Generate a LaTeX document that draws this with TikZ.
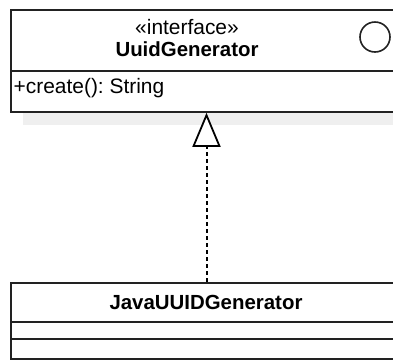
\documentclass[tikz,border=0pt]{standalone}
\usepackage{fontspec}
\setmainfont{Liberation Sans}
\usetikzlibrary{arrows.meta}
\frenchspacing
\definecolor{edgegray}{HTML}{222222}
\definecolor{shadowgray}{HTML}{EFEFEF}
\tikzset{
  umlbox/.style={draw=edgegray, line width=2bp, fill=white},
  umlsep/.style={draw=edgegray, line width=2bp},
  lbl/.style={inner sep=0pt, font=\fontsize{21}{25}\selectfont, text=black},
  boldlbl/.style={lbl, font=\fontsize{20.5}{25}\selectfont\bfseries},
  realize/.style={draw=black, line width=2bp, dash pattern=on 4bp off 3bp,
    -{Triangle[open, width=28bp, length=34bp, line width=1.8bp, fill=white]}},
}
\begin{document}
\begin{tikzpicture}[x=1bp, y=-1bp]
  \useasboundingbox (0,0) rectangle (393,363);
  % drop shadow under the interface box
  \fill[shadowgray] (22.5,113) rectangle (400,124.5);
  % interface box
  \draw[umlbox] (11,10) rectangle (400,112);
  \draw[umlsep] (11,71) -- (400,71);
  \draw[edgegray, line width=1.6bp] (375,37) circle (15);
  \node[lbl] (stereo) at (187,27) {«interface»};
  \node[boldlbl] (iface) at (187,49) {UuidGenerator};
  \node[lbl, anchor=west] (op) at (13.5,88) {+create(): String};
  \coordinate (ifaceBottom) at (206.5,112.8);
  % implementing class
  \draw[umlbox] (11,282.5) rectangle (400,359);
  \draw[umlsep] (11,322) -- (400,322);
  \draw[umlsep] (11,339) -- (400,339);
  \node[boldlbl] (impl) at (206,302) {JavaUUIDGenerator};
  \coordinate (implTop) at (206.5,281.5);
  % realization arrow
  \draw[realize] (implTop) -- (ifaceBottom);
\end{tikzpicture}
\end{document}
